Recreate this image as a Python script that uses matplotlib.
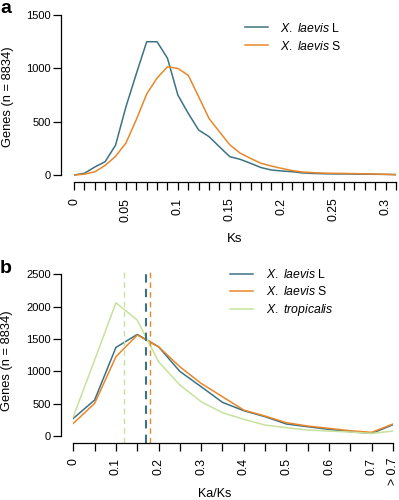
import matplotlib
matplotlib.use('Agg')
import matplotlib.pyplot as plt

plt.rcParams['font.family'] = ['Liberation Sans', 'DejaVu Sans']
plt.rcParams['mathtext.fontset'] = 'custom'
plt.rcParams['mathtext.it'] = 'Liberation Sans:italic'
plt.rcParams['mathtext.rm'] = 'Liberation Sans'

BLUE = "#3d7283"
ORANGE = "#e8872a"
GREEN = "#c6e29c"

# Panel a: Ks distribution (bins of 0.01)
ks_bins = [0.00, 0.01, 0.02, 0.03, 0.04, 0.05, 0.06, 0.07, 0.08, 0.09, 0.10,
           0.11, 0.12, 0.13, 0.14, 0.15, 0.16, 0.17, 0.18, 0.19, 0.20, 0.21,
           0.22, 0.23, 0.24, 0.25, 0.26, 0.27, 0.28, 0.29, 0.30, 0.31]
ks_L = [0, 16, 75, 125, 280, 640, 950, 1250, 1250, 1095, 750,
        578, 422, 360, 265, 172, 147, 110, 70, 47, 38, 31,
        20, 15, 12, 10, 10, 9, 8, 7, 6, 4]
ks_S = [0, 8, 30, 90, 175, 300, 520, 760, 910, 1015, 1000,
        935, 735, 530, 406, 283, 205, 156, 110, 84, 62, 42,
        28, 22, 18, 16, 15, 13, 11, 9, 6, 3]
ks_labelled = {0.0: "0", 0.05: "0.05", 0.1: "0.1", 0.15: "0.15",
               0.2: "0.2", 0.25: "0.25", 0.3: "0.3"}

# Panel b: Ka/Ks distribution (bins of 0.05, last bin is > 0.7)
kaks_bins = [0.0, 0.05, 0.1, 0.15, 0.2, 0.25, 0.3, 0.35, 0.4, 0.45, 0.5,
             0.55, 0.6, 0.65, 0.7, 0.75]
kaks_L = [273, 557, 1371, 1572, 1381, 1000, 763, 521, 392, 299, 186,
          144, 103, 67, 41, 175]
kaks_S = [196, 505, 1227, 1562, 1381, 1072, 814, 608, 402, 309, 206,
          155, 119, 82, 57, 186]
kaks_T = [299, 1175, 2062, 1794, 1150, 789, 531, 361, 258, 170, 129,
          93, 77, 62, 41, 77]
kaks_ticklabels = ["0", "", "0.1", "", "0.2", "", "0.3", "", "0.4", "", "0.5",
                   "", "0.6", "", "0.7", "> 0.7"]
median_L, median_S, median_T = 0.17, 0.18, 0.12

W, H = 399, 500
fig = plt.figure(figsize=(W / 100, H / 100), dpi=100)


def frac(x0, y0, x1, y1):
    return [x0 / W, 1 - y1 / H, (x1 - x0) / W, (y1 - y0) / H]


def style(ax, yoff, xoff):
    for s in ["top", "right"]:
        ax.spines[s].set_visible(False)
    ax.spines["left"].set_position(("outward", yoff))
    ax.spines["bottom"].set_position(("outward", xoff))
    for s in ["left", "bottom"]:
        ax.spines[s].set_linewidth(0.9)
    ax.tick_params(axis="y", length=5.5, width=0.9, labelsize=8, pad=2)
    ax.tick_params(axis="x", length=6, width=0.9, labelsize=8.8, pad=5,
                   labelrotation=90)


# ---- panel a
ax1 = fig.add_axes(frac(74, 12, 396, 178))
ax1.plot(ks_bins, ks_L, color=BLUE, lw=1.1, label=r"$\it{X.\ laevis}$ L")
ax1.plot(ks_bins, ks_S, color=ORANGE, lw=1.1, label=r"$\it{X.\ laevis}$ S")
ax1.set_xlim(0, 0.31)
ax1.set_ylim(-28, 1529)
style(ax1, 9.4, 3.2)
ax1.spines["left"].set_bounds(0, 1500)
ax1.spines["bottom"].set_bounds(0, 0.31)
ax1.set_yticks([0, 500, 1000, 1500])
ax1.set_xticks(ks_bins)
ax1.set_xticklabels([ks_labelled.get(round(b, 2), "") for b in ks_bins])
ax1.set_ylabel("Genes (n = 8834)", fontsize=9.3)
ax1.yaxis.set_label_coords(-0.185, 0.49)
ax1.set_xlabel("Ks", fontsize=9.5, va="top")
ax1.xaxis.set_label_coords(0.5, -0.33)
ax1.legend(loc="upper left", bbox_to_anchor=(0.5, 1.0), frameon=False,
           fontsize=8.8, handlelength=1.9, handletextpad=1.0,
           labelspacing=0.4, borderpad=0.3)
fig.text(0.0, 1.0, "a", fontsize=14, fontweight="bold", va="top")

# ---- panel b
ax2 = fig.add_axes(frac(73.3, 268, 393, 442.5))
ax2.plot(kaks_bins, kaks_L, color=BLUE, lw=1.1, label=r"$\it{X.\ laevis}$ L")
ax2.plot(kaks_bins, kaks_S, color=ORANGE, lw=1.1, label=r"$\it{X.\ laevis}$ S")
ax2.plot(kaks_bins, kaks_T, color=GREEN, lw=1.1, label=r"$\it{X.\ tropicalis}$")
ax2.axvline(median_T, color=GREEN, lw=1.0, ls=(0, (4, 3)))
ax2.axvline(median_L, color=BLUE, lw=1.5, ls=(0, (4, 3)))
ax2.axvline(median_S, color=ORANGE, lw=1.0, ls=(0, (4, 3)))
ax2.set_xlim(0, 0.75)
ax2.set_ylim(-100, 2600)
style(ax2, 8.8, 0)
ax2.spines["left"].set_bounds(0, 2500)
ax2.spines["bottom"].set_bounds(0, 0.75)
ax2.set_yticks([0, 500, 1000, 1500, 2000, 2500])
ax2.set_xticks(kaks_bins)
ax2.set_xticklabels(kaks_ticklabels)
ax2.set_ylabel("Genes (n = 8834)", fontsize=9.3)
ax2.yaxis.set_label_coords(-0.188, 0.467)
ax2.set_xlabel("Ka/Ks", fontsize=9, va="top")
ax2.xaxis.set_label_coords(0.443, -0.262)
ax2.legend(loc="upper left", bbox_to_anchor=(0.46, 1.055), frameon=False,
           fontsize=8.8, handlelength=1.9, handletextpad=1.0,
           labelspacing=0.33, borderpad=0.3)
fig.text(0.0, 0.48, "b", fontsize=14, fontweight="bold", va="top")

fig.savefig("out.png", dpi=100)
